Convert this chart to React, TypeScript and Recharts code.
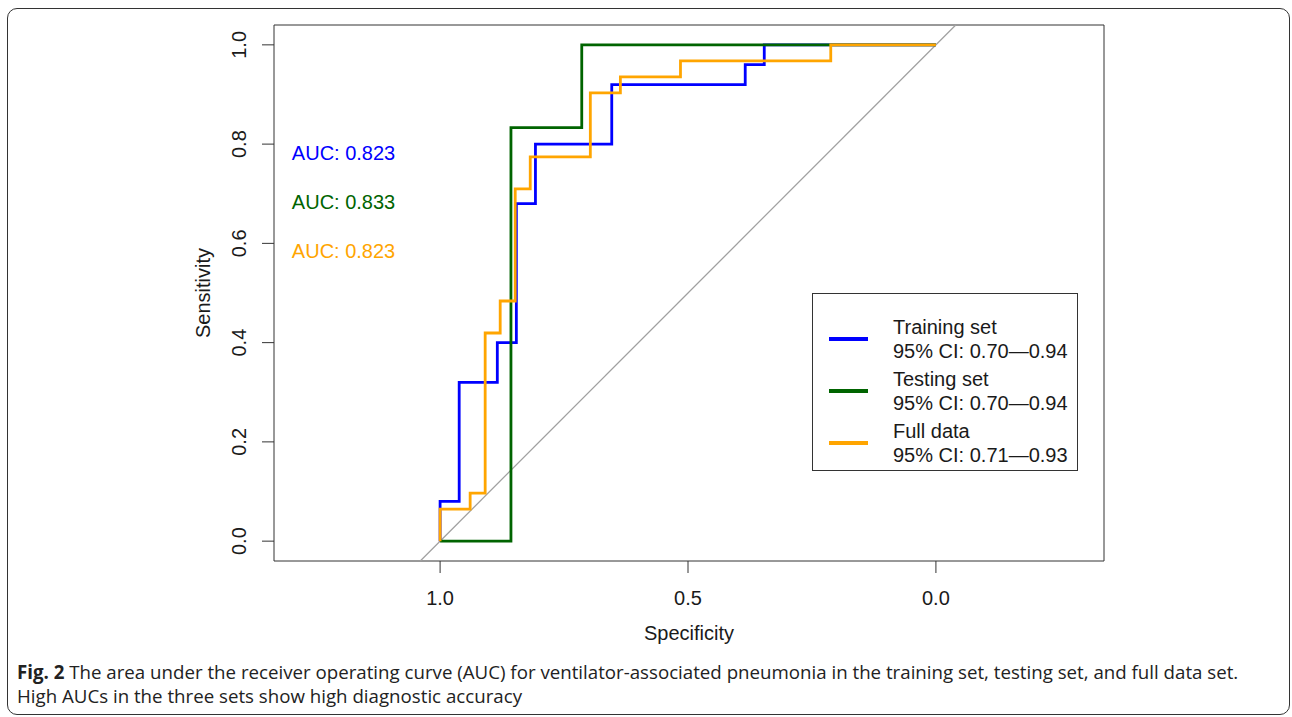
import React from 'react';
import { LineChart, Line, XAxis, YAxis, ReferenceLine, ReferenceArea, ReferenceDot, Legend } from 'recharts';

// ROC coordinates (specificity, sensitivity)
const trainSpec = [1, 1, 0.9615, 0.9615, 0.8846, 0.8846, 0.8462, 0.8462, 0.8077, 0.8077, 0.6538, 0.6538, 0.3846, 0.3846, 0.3462, 0.3462, 0];
const trainSens = [0, 0.08, 0.08, 0.32, 0.32, 0.4, 0.4, 0.68, 0.68, 0.8, 0.8, 0.92, 0.92, 0.96, 0.96, 1, 1];

const testSpec = [1, 0.8571, 0.8571, 0.7143, 0.7143, 0];
const testSens = [0, 0, 0.8333, 0.8333, 1, 1];

const fullSpec = [1, 1, 0.9394, 0.9394, 0.9091, 0.9091, 0.8788, 0.8788, 0.8485, 0.8485, 0.8182, 0.8182, 0.697, 0.697, 0.6364, 0.6364, 0.5152, 0.5152, 0.2121, 0.2121, 0];
const fullSens = [0, 0.0645, 0.0645, 0.0968, 0.0968, 0.4194, 0.4194, 0.4839, 0.4839, 0.7097, 0.7097, 0.7742, 0.7742, 0.9032, 0.9032, 0.9355, 0.9355, 0.9677, 0.9677, 1, 1];

const seriesNames = ['Training set', 'Testing set', 'Full data'];
const ciLabels = ['95% CI: 0.70\u20140.94', '95% CI: 0.70\u20140.94', '95% CI: 0.71\u20140.93'];
const aucLabels = ['AUC: 0.823', 'AUC: 0.833', 'AUC: 0.823'];
const xTicks = [1, 0.5, 0];
const yTicks = [0, 0.2, 0.4, 0.6, 0.8, 1];

const colors = ['#0000ff', '#006400', '#ffa500'];
const FONT = '"Liberation Sans", Arial, Helvetica, sans-serif';
const TXT = '#1a1a1a';

const X_MIN = -0.339;
const X_MAX = 1.335;
const Y_MIN = -0.04;
const Y_MAX = 1.04;

// where the AUC texts sit (data space)
const aucX = 1.299;
const aucY = [0.782, 0.683, 0.585];

const toPoints = (spec: number[], sens: number[]) => spec.map((s, i) => ({ spec: s, sens: sens[i] }));

const trainData = toPoints(trainSpec, trainSens);
const testData = toPoints(testSpec, testSens);
const fullData = toPoints(fullSpec, fullSens);

const YTick = (props: any) => {
  const { x, y, payload } = props;
  return (
    <text
      transform={`translate(${x},${y}) rotate(-90)`}
      textAnchor="middle"
      fontSize={20}
      fontFamily={FONT}
      fill={TXT}
    >
      {Number(payload.value).toFixed(1)}
    </text>
  );
};

const renderLegend = (props: any) => {
  // keep the series order of the figure regardless of payload order
  const items = [...(props.payload || [])].sort(
    (a: any, b: any) => seriesNames.indexOf(a.value) - seriesNames.indexOf(b.value)
  );
  return (
    <svg width={266} height={178} style={{ display: 'block' }}>
      <rect x={0.5} y={0.5} width={265} height={177} fill="#fff" stroke="#333" strokeWidth={1} />
      {items.map((it: any, i: number) => {
        const k = seriesNames.indexOf(it.value);
        return (
          <g key={i} transform={`translate(0, ${i * 52})`}>
            <line x1={17} x2={56} y1={46} y2={46} stroke={colors[k]} strokeWidth={4} />
            <text x={81} y={41} fontSize={20} fontFamily={FONT} fill={TXT}>{it.value}</text>
            <text x={81} y={65} fontSize={20} fontFamily={FONT} fill={TXT}>{ciLabels[k]}</text>
          </g>
        );
      })}
    </svg>
  );
};

export default function App() {
  const yAxisW = 60;
  const xAxisH = 80;
  return (
    <div style={{ position: 'absolute', left: 0, top: 0, width: 1292, height: 717, background: '#fff' }}>
      <div
        style={{
          position: 'absolute',
          left: 7,
          top: 8,
          width: 1281,
          height: 705,
          border: '1.5px solid #333',
          borderRadius: 10,
        }}
      />
      <div style={{ position: 'absolute', left: 0, top: 0 }}>
        <LineChart
          width={1292}
          height={717}
          margin={{ top: 25, right: 188, bottom: 156 - xAxisH, left: 274 - yAxisW }}
        >
          <XAxis
            dataKey="spec"
            type="number"
            domain={[X_MIN, X_MAX]}
            allowDataOverflow
            reversed
            ticks={xTicks}
            interval={0}
            height={xAxisH}
            tickSize={12}
            tickMargin={18}
            axisLine={false}
            tickLine={{ stroke: '#333' }}
            tickFormatter={(v: number) => v.toFixed(1)}
            tick={{ fontSize: 20, fontFamily: FONT, fill: TXT }}
            label={{
              content: (p: any) => (
                <text
                  x={p.viewBox.x + p.viewBox.width / 2}
                  y={p.viewBox.y + 79}
                  textAnchor="middle"
                  fontSize={20}
                  fontFamily={FONT}
                  fill={TXT}
                >
                  Specificity
                </text>
              ),
            }}
          />
          <YAxis
            type="number"
            domain={[Y_MIN, Y_MAX]}
            allowDataOverflow
            ticks={yTicks}
            interval={0}
            width={yAxisW}
            tickSize={12}
            tickMargin={16}
            axisLine={false}
            tickLine={{ stroke: '#333' }}
            tick={<YTick />}
            label={{
              content: (p: any) => (
                <text
                  transform={`translate(${p.viewBox.x - 4.5},${p.viewBox.y + p.viewBox.height / 2}) rotate(-90)`}
                  textAnchor="middle"
                  fontSize={20}
                  fontFamily={FONT}
                  fill={TXT}
                >
                  Sensitivity
                </text>
              ),
            }}
          />
          <ReferenceArea
            x1={X_MIN}
            x2={X_MAX}
            y1={Y_MIN}
            y2={Y_MAX}
            fill="none"
            fillOpacity={0}
            stroke="#333"
            strokeWidth={1}
            ifOverflow="visible"
          />
          <ReferenceLine
            segment={[{ x: 1.04, y: -0.04 }, { x: -0.04, y: 1.04 }]}
            stroke="#a0a0a0"
            strokeWidth={1.3}
            ifOverflow="visible"
          />
          <Line data={trainData} dataKey="sens" name={seriesNames[0]} type="linear" stroke={colors[0]} strokeWidth={2.8} dot={false} activeDot={false} isAnimationActive={false} />
          <Line data={testData} dataKey="sens" name={seriesNames[1]} type="linear" stroke={colors[1]} strokeWidth={2.8} dot={false} activeDot={false} isAnimationActive={false} />
          <Line data={fullData} dataKey="sens" name={seriesNames[2]} type="linear" stroke={colors[2]} strokeWidth={2.8} dot={false} activeDot={false} isAnimationActive={false} />
          {aucLabels.map((t, i) => (
            <ReferenceDot
              key={i}
              x={aucX}
              y={aucY[i]}
              r={0}
              fill="none"
              stroke="none"
              label={{
                content: (p: any) => (
                  <text x={p.viewBox.x} y={p.viewBox.y + 7} fontSize={20} fontFamily={FONT} fill={colors[i]}>
                    {t}
                  </text>
                ),
              }}
            />
          ))}
          <Legend
            layout="vertical"
            align="center"
            verticalAlign="middle"
            content={renderLegend}
            wrapperStyle={{ left: 812, top: 293, width: 266, height: 178 }}
          />
        </LineChart>
      </div>
      <div
        style={{
          position: 'absolute',
          left: 17,
          top: 660,
          fontFamily: '"Open Sans", "Noto Sans", sans-serif',
          fontSize: 18.7,
          lineHeight: '24px',
          color: '#222',
          whiteSpace: 'nowrap',
        }}
      >
        <b>Fig. 2</b> The area under the receiver operating curve (AUC) for ventilator-associated pneumonia in the training set, testing set, and full data set.
        <br />
        High AUCs in the three sets show high diagnostic accuracy
      </div>
    </div>
  );
}
